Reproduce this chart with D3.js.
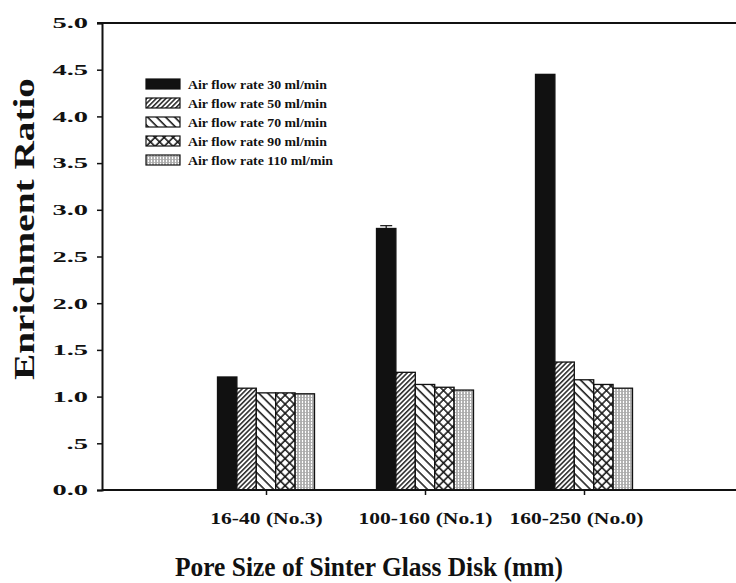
<!DOCTYPE html>
<html>
<head>
<meta charset="utf-8">
<script src="https://cdn.jsdelivr.net/npm/d3@7"></script>
<style>
  html, body { margin: 0; padding: 0; background: #fff; }
  svg { display: block; }
</style>
</head>
<body>
<svg id="chart" width="736" height="583"></svg>
<script>
// Pore-size groups along the x axis
const categories = ["16-40 (No.3)", "100-160 (No.1)", "160-250 (No.0)"];
// Air flow rate series (legend order)
const seriesNames = [
  "Air flow rate 30 ml/min",
  "Air flow rate 50 ml/min",
  "Air flow rate 70 ml/min",
  "Air flow rate 90 ml/min",
  "Air flow rate 110 ml/min"
];
// Enrichment ratio per series, one value per pore-size group
const rate30  = [1.21, 2.80, 4.45];
const rate50  = [1.09, 1.26, 1.37];
const rate70  = [1.04, 1.13, 1.18];
const rate90  = [1.04, 1.10, 1.13];
const rate110 = [1.03, 1.07, 1.09];
const seriesValues = [rate30, rate50, rate70, rate90, rate110];
// Upper error for the 30 ml/min series
const rate30Err = [0, 0.03, 0];
// Y tick values and labels
const yTicks = [0, 0.5, 1, 1.5, 2, 2.5, 3, 3.5, 4, 4.5, 5];
const yTickLabels = ["0.0", ".5", "1.0", "1.5", "2.0", "2.5", "3.0", "3.5", "4.0", "4.5", "5.0"];
const xTitle = "Pore Size of Sinter Glass Disk (mm)";
const yTitle = "Enrichment Ratio";

const svg = d3.select("#chart");
const FONT = "'Liberation Serif', 'Times New Roman', serif";

const plotLeft = 102, plotTop = 23, plotBottom = 490;

const y = d3.scaleLinear().domain([0, 5]).range([plotBottom, plotTop]);
const x = d3.scalePoint().domain(categories).range([266, 584]);
const inner = d3.scaleBand().domain(seriesNames).range([-48.5, 48.5]).padding(0);

// Widen text horizontally by a factor (wide typeface look)
function widen(sel, factor) {
  sel.each(function () {
    const len = this.getComputedTextLength();
    d3.select(this)
      .attr("textLength", len * factor)
      .attr("lengthAdjust", "spacingAndGlyphs");
  });
}
// Stretch text to a given width
function fitTo(sel, width) {
  sel.attr("textLength", width).attr("lengthAdjust", "spacingAndGlyphs");
}

// Fill patterns for the series
const defs = svg.append("defs");
function pat(id, size, rotate) {
  const p = defs.append("pattern")
    .attr("id", id)
    .attr("patternUnits", "userSpaceOnUse")
    .attr("width", size).attr("height", size);
  if (rotate !== null) p.attr("patternTransform", `rotate(${rotate})`);
  p.append("rect").attr("width", size).attr("height", size).attr("fill", "#fff");
  return p;
}
// 50: dense forward diagonals
pat("p50", 3.4, 45).append("line")
  .attr("x1", 0.8).attr("y1", -1).attr("x2", 0.8).attr("y2", 5)
  .attr("stroke", "#111").attr("stroke-width", 1.4);
// 70: wide back diagonals
pat("p70", 6.4, -45).append("line")
  .attr("x1", 1).attr("y1", -1).attr("x2", 1).attr("y2", 8)
  .attr("stroke", "#111").attr("stroke-width", 1.5);
// 90: crosshatch diamonds
const p90 = pat("p90", 6.4, 45);
p90.append("line").attr("x1", 1).attr("y1", -1).attr("x2", 1).attr("y2", 8)
  .attr("stroke", "#111").attr("stroke-width", 1.5);
p90.append("line").attr("x1", -1).attr("y1", 1).attr("x2", 8).attr("y2", 1)
  .attr("stroke", "#111").attr("stroke-width", 1.5);
// 110: fine vertical lines with light cross dots
const p110 = pat("p110", 3, null);
p110.append("line").attr("x1", 1).attr("y1", 0).attr("x2", 1).attr("y2", 3)
  .attr("stroke", "#666").attr("stroke-width", 1);
p110.append("line").attr("x1", 0).attr("y1", 1.5).attr("x2", 3).attr("y2", 1.5)
  .attr("stroke", "#aaa").attr("stroke-width", 0.8);

const fills = ["#111", "url(#p50)", "url(#p70)", "url(#p90)", "url(#p110)"];

// Bars
const rows = [];
seriesNames.forEach((s, si) => {
  categories.forEach((c, ci) => {
    rows.push({ series: s, si, cat: c, value: seriesValues[si][ci] });
  });
});

svg.append("g").selectAll("rect")
  .data(rows)
  .join("rect")
  .attr("x", d => x(d.cat) + inner(d.series))
  .attr("y", d => y(d.value))
  .attr("width", inner.bandwidth())
  .attr("height", d => y(0) - y(d.value))
  .attr("fill", d => fills[d.si])
  .attr("stroke", "#111")
  .attr("stroke-width", 1.3);

// Error cap on the 30 ml/min bars
const errG = svg.append("g");
categories.forEach((c, ci) => {
  if (!rate30Err[ci]) return;
  const cx = x(c) + inner(seriesNames[0]) + inner.bandwidth() / 2;
  const v = rate30[ci];
  errG.append("line")
    .attr("x1", cx).attr("x2", cx)
    .attr("y1", y(v)).attr("y2", y(v + rate30Err[ci]))
    .attr("stroke", "#111").attr("stroke-width", 1.2);
  errG.append("line")
    .attr("x1", cx - 6).attr("x2", cx + 6)
    .attr("y1", y(v + rate30Err[ci])).attr("y2", y(v + rate30Err[ci]))
    .attr("stroke", "#111").attr("stroke-width", 1.2);
});

// Y axis
const yAxis = d3.axisLeft(y)
  .tickValues(yTicks)
  .tickFormat((d, i) => yTickLabels[i])
  .tickSize(5)
  .tickPadding(9);
const gy = svg.append("g")
  .attr("transform", `translate(${plotLeft},0)`)
  .call(yAxis);
gy.select(".domain").attr("stroke", "#111").attr("stroke-width", 2);
gy.selectAll(".tick line").attr("stroke", "#111").attr("stroke-width", 1.5);
gy.selectAll(".tick text")
  .attr("font-family", FONT).attr("font-weight", "bold")
  .attr("font-size", 15).attr("fill", "#111")
  .call(widen, 1.9);

// X axis
const xAxis = d3.axisBottom(x).tickSize(5).tickPadding(17);
const gx = svg.append("g")
  .attr("transform", `translate(0,${plotBottom})`)
  .call(xAxis);
gx.select(".domain").remove();
gx.selectAll(".tick line").attr("stroke", "#111").attr("stroke-width", 1.5);
gx.selectAll(".tick text")
  .attr("font-family", FONT).attr("font-weight", "bold")
  .attr("font-size", 17.5).attr("fill", "#111")
  .attr("dx", (d, i) => (i === categories.length - 1 ? -8 : 0))
  .call(widen, 1.23);

// Baseline and top frame line
svg.append("line")
  .attr("x1", plotLeft).attr("x2", 736)
  .attr("y1", y(0)).attr("y2", y(0))
  .attr("stroke", "#111").attr("stroke-width", 2);
svg.append("line")
  .attr("x1", plotLeft - 5).attr("x2", 736)
  .attr("y1", y(5)).attr("y2", y(5))
  .attr("stroke", "#111").attr("stroke-width", 2);

// Axis titles
svg.append("text")
  .attr("x", 369).attr("y", 576)
  .attr("text-anchor", "middle")
  .attr("font-family", FONT).attr("font-weight", "bold")
  .attr("font-size", 27).attr("fill", "#111")
  .text(xTitle)
  .call(fitTo, 388);
svg.append("text")
  .attr("transform", "translate(34,229) rotate(-90)")
  .attr("text-anchor", "middle")
  .attr("font-family", FONT).attr("font-weight", "bold")
  .attr("font-size", 29).attr("fill", "#111")
  .text(yTitle)
  .call(fitTo, 302);

// Legend
const legend = svg.append("g").attr("transform", "translate(146,79)");
const legendRow = d3.scalePoint().domain(seriesNames).range([0, 76]);
const items = legend.selectAll("g")
  .data(seriesNames)
  .join("g")
  .attr("transform", d => `translate(0,${legendRow(d)})`);
items.append("rect")
  .attr("width", 34).attr("height", 10)
  .attr("fill", (d, i) => fills[i])
  .attr("stroke", "#111").attr("stroke-width", 1.2);
const legendText = items.append("text")
  .attr("x", 42).attr("y", 9.5)
  .attr("font-family", FONT).attr("font-weight", "bold")
  .attr("font-size", 11.5).attr("fill", "#111")
  .text(d => d);
// Stretch legend labels so the longest one spans 145px
const longest = d3.max(legendText.nodes(), n => n.getComputedTextLength());
legendText.call(widen, 145 / longest);
</script>
</body>
</html>
